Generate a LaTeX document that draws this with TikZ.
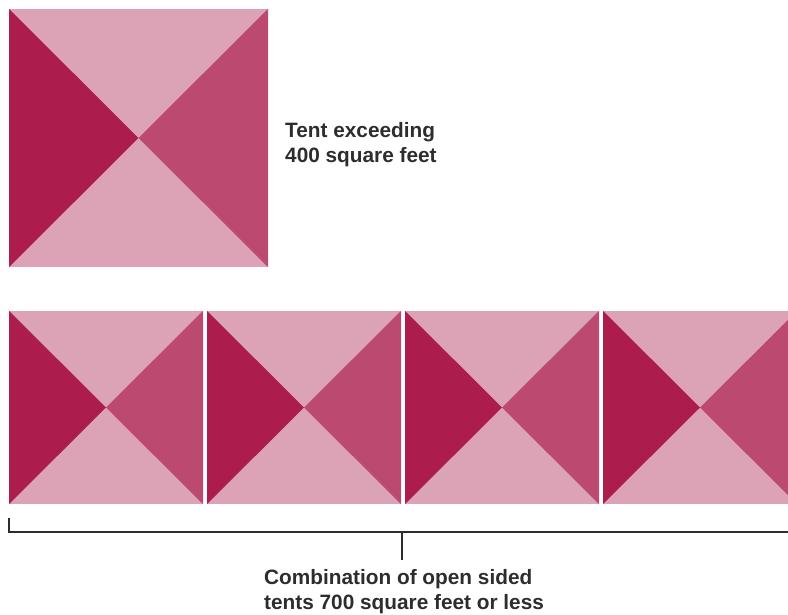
\documentclass[tikz,border=0pt]{standalone}
\usepackage{fontspec}
\setmainfont{Liberation Sans}
\definecolor{tdark}{RGB}{172,28,76}
\definecolor{tmid}{RGB}{188,74,112}
\definecolor{tlight}{RGB}{220,162,181}
\definecolor{txt}{RGB}{45,45,45}
\begin{document}
\begin{tikzpicture}[x=1pt,y=-1pt,
  lbl/.style={font=\bfseries\fontsize{20.8}{24.5}\selectfont, text=txt, inner sep=0pt},
  brk/.style={draw=txt, line width=1.1pt}]
\useasboundingbox (0,0) rectangle (788,615);
\newcommand{\tent}[4]{% x1 y1 x2 y2
  \fill[tlight] (#1,#2) rectangle (#3,#4);
  \fill[tdark] (#1,#2) -- ({(#1+#3)/2},{(#2+#4)/2}) -- (#1,#4) -- cycle;
  \fill[tmid] (#3,#2) -- ({(#1+#3)/2},{(#2+#4)/2}) -- (#3,#4) -- cycle;
}
\begin{scope}
\clip (0,0) rectangle (788,615);
\tent{9}{9}{268}{267}
\tent{9}{311}{203}{504}
\tent{207}{311}{401}{504}
\tent{405}{311}{599}{504}
\tent{603}{311}{797}{504}
\end{scope}
\node[lbl, anchor=west, align=left] (big) at (285,144.5) {Tent exceeding\\400 square feet};
\coordinate (bl) at (9,518);
\coordinate (bc) at (9,532);
\coordinate (br) at (788,532);
\coordinate (tm) at (402,532);
\coordinate (te) at (402,560);
\node[lbl, anchor=west, align=left] (small) at (264,591.5) {Combination of open sided\\tents 700 square feet or less};
\draw[brk] (bl) -- (bc) -- (br);
\draw[brk] (tm) -- (te);
\end{tikzpicture}
\end{document}
